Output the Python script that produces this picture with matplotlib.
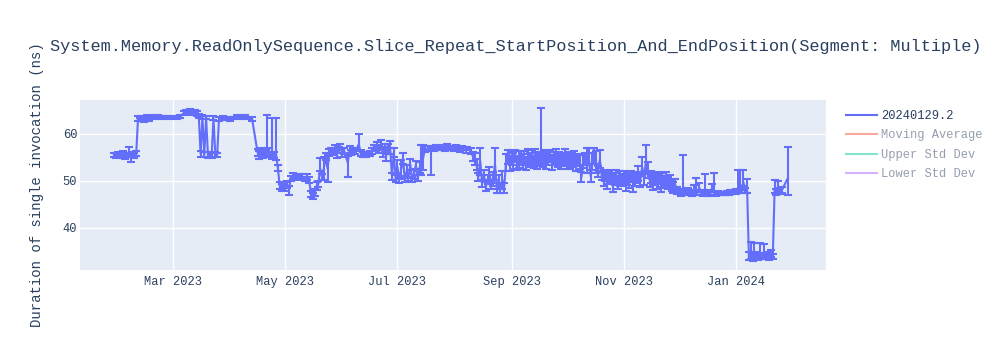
import numpy as np
import pandas as pd
import matplotlib
matplotlib.use("Agg")
import matplotlib.pyplot as plt
import matplotlib.dates as mdates
from matplotlib.lines import Line2D

plt.rcParams['font.family'] = ['Liberation Mono', 'DejaVu Sans']

TITLE = "System.Memory.ReadOnlySequence.Slice_Repeat_StartPosition_And_EndPosition(Segment: Multiple)"
Y_TITLE = "Duration of single invocation (ns)"
SERIES_NAME = "20240129.2"
HIDDEN_NAMES = ["Moving Average", "Upper Std Dev", "Lower Std Dev"]

# run dates and mean duration (ns), with the spread below / above the mean
dates = [
    "2023-01-28", "2023-01-29", "2023-01-30", "2023-01-31", "2023-02-01", "2023-02-02", "2023-02-03",
    "2023-02-04", "2023-02-05", "2023-02-06", "2023-02-07", "2023-02-08", "2023-02-09", "2023-02-10",
    "2023-02-11", "2023-02-12", "2023-02-13", "2023-02-14", "2023-02-15", "2023-02-16", "2023-02-17",
    "2023-02-19", "2023-02-21", "2023-02-23", "2023-02-25", "2023-02-27",
    "2023-03-01", "2023-03-03", "2023-03-05", "2023-03-07", "2023-03-08", "2023-03-10", "2023-03-11",
    "2023-03-13", "2023-03-14", "2023-03-15", "2023-03-16", "2023-03-17", "2023-03-18", "2023-03-19",
    "2023-03-20", "2023-03-21", "2023-03-22", "2023-03-23", "2023-03-24", "2023-03-25", "2023-03-26",
    "2023-03-28", "2023-03-30",
    "2023-04-01", "2023-04-03", "2023-04-05", "2023-04-07", "2023-04-09", "2023-04-11", "2023-04-13",
    "2023-04-16", "2023-04-17", "2023-04-18", "2023-04-19", "2023-04-20", "2023-04-21", "2023-04-22",
    "2023-04-23", "2023-04-24", "2023-04-25", "2023-04-26", "2023-04-27", "2023-04-28", "2023-04-29",
    "2023-04-30",
    "2023-05-01", "2023-05-02", "2023-05-03", "2023-05-04", "2023-05-05", "2023-05-07", "2023-05-09",
    "2023-05-10", "2023-05-12", "2023-05-13", "2023-05-14", "2023-05-15", "2023-05-16", "2023-05-17",
    "2023-05-18", "2023-05-19", "2023-05-20", "2023-05-21", "2023-05-22", "2023-05-23", "2023-05-24",
    "2023-05-25", "2023-05-26", "2023-05-27", "2023-05-28", "2023-05-29", "2023-05-30", "2023-05-31",
    "2023-06-01", "2023-06-02", "2023-06-04", "2023-06-05", "2023-06-06", "2023-06-07", "2023-06-08",
    "2023-06-10", "2023-06-11", "2023-06-12", "2023-06-14", "2023-06-16", "2023-06-17", "2023-06-18",
    "2023-06-20", "2023-06-21", "2023-06-22", "2023-06-23", "2023-06-24", "2023-06-25", "2023-06-26",
    "2023-06-27", "2023-06-28", "2023-06-29", "2023-06-30",
    "2023-07-01", "2023-07-02", "2023-07-03", "2023-07-04", "2023-07-05", "2023-07-06", "2023-07-07",
    "2023-07-08", "2023-07-09", "2023-07-10", "2023-07-11", "2023-07-12", "2023-07-13", "2023-07-14",
    "2023-07-15", "2023-07-16", "2023-07-18", "2023-07-19", "2023-07-20", "2023-07-21", "2023-07-22",
    "2023-07-24", "2023-07-25", "2023-07-27", "2023-07-28", "2023-07-30",
    "2023-08-01", "2023-08-02", "2023-08-04", "2023-08-05", "2023-08-07", "2023-08-08", "2023-08-10",
    "2023-08-11", "2023-08-12", "2023-08-13", "2023-08-14", "2023-08-15", "2023-08-16", "2023-08-17",
    "2023-08-18", "2023-08-19", "2023-08-20", "2023-08-21", "2023-08-22", "2023-08-23", "2023-08-24",
    "2023-08-25", "2023-08-26", "2023-08-27", "2023-08-28", "2023-08-29", "2023-08-30", "2023-08-31",
    "2023-09-01", "2023-09-02", "2023-09-03", "2023-09-04", "2023-09-05", "2023-09-06", "2023-09-07",
    "2023-09-08", "2023-09-09", "2023-09-10", "2023-09-11", "2023-09-12", "2023-09-13", "2023-09-14",
    "2023-09-15", "2023-09-16", "2023-09-17", "2023-09-18", "2023-09-19", "2023-09-20", "2023-09-21",
    "2023-09-22", "2023-09-23", "2023-09-24", "2023-09-25", "2023-09-26", "2023-09-27", "2023-09-28",
    "2023-09-29", "2023-09-30",
    "2023-10-01", "2023-10-02", "2023-10-03", "2023-10-04", "2023-10-05", "2023-10-06", "2023-10-07",
    "2023-10-08", "2023-10-09", "2023-10-10", "2023-10-11", "2023-10-12", "2023-10-13", "2023-10-14",
    "2023-10-15", "2023-10-16", "2023-10-17", "2023-10-18", "2023-10-19", "2023-10-20", "2023-10-21",
    "2023-10-22", "2023-10-23", "2023-10-24", "2023-10-25", "2023-10-26", "2023-10-27", "2023-10-28",
    "2023-10-29", "2023-10-30", "2023-10-31",
    "2023-11-01", "2023-11-02", "2023-11-03", "2023-11-04", "2023-11-05", "2023-11-06", "2023-11-07",
    "2023-11-08", "2023-11-09", "2023-11-10", "2023-11-11", "2023-11-12", "2023-11-13", "2023-11-14",
    "2023-11-15", "2023-11-16", "2023-11-17", "2023-11-18", "2023-11-19", "2023-11-20", "2023-11-21",
    "2023-11-22", "2023-11-23", "2023-11-24", "2023-11-25", "2023-11-26", "2023-11-27", "2023-11-28",
    "2023-11-29", "2023-11-30",
    "2023-12-01", "2023-12-02", "2023-12-03", "2023-12-04", "2023-12-05", "2023-12-06", "2023-12-07",
    "2023-12-08", "2023-12-09", "2023-12-10", "2023-12-11", "2023-12-12", "2023-12-13", "2023-12-14",
    "2023-12-15", "2023-12-16", "2023-12-17", "2023-12-18", "2023-12-19", "2023-12-20", "2023-12-21",
    "2023-12-22", "2023-12-23", "2023-12-24", "2023-12-25", "2023-12-26", "2023-12-27", "2023-12-28",
    "2023-12-29", "2023-12-30", "2023-12-31",
    "2024-01-01", "2024-01-02", "2024-01-03", "2024-01-04", "2024-01-05", "2024-01-06", "2024-01-07",
    "2024-01-08", "2024-01-09", "2024-01-10", "2024-01-11", "2024-01-12", "2024-01-13", "2024-01-14",
    "2024-01-15", "2024-01-16", "2024-01-17", "2024-01-18", "2024-01-19", "2024-01-20", "2024-01-21",
    "2024-01-22", "2024-01-23", "2024-01-24", "2024-01-25", "2024-01-26", "2024-01-29",
]

mean_ns = [
    55.6, 55.4, 55.7, 55.3, 55.5, 55.8, 55.2,
    55.6, 56.2, 55.0, 55.6, 55.4, 55.8, 63.3,
    63.1, 63.4, 63.0, 63.3, 63.6, 63.2, 63.5,
    63.7, 63.6, 63.5, 63.6, 63.5,
    63.6, 63.5, 63.7, 64.5, 64.7, 64.9, 64.6,
    64.8, 64.3, 63.9, 55.8, 63.6, 55.6, 63.5,
    55.5, 55.7, 55.4, 63.4, 55.6, 55.5, 63.2,
    63.4, 63.3,
    63.2, 63.4, 63.6, 63.7, 63.6, 63.4, 63.2,
    56.0, 55.5, 56.4, 55.8, 56.2, 55.9, 56.3,
    55.6, 55.8, 55.5, 55.7, 52.8, 49.0, 48.6,
    49.2,
    48.8, 49.3, 48.2, 50.6, 51.0, 50.7, 51.1,
    50.8, 50.4, 50.9, 50.2, 47.2, 46.8, 47.5,
    48.9, 49.4, 52.6, 50.8, 52.8, 55.2, 52.6,
    56.1, 56.5, 56.3, 57.0, 55.8, 56.6, 57.2,
    56.0, 56.4, 53.9, 56.7, 56.1, 56.5, 56.3,
    57.8, 56.0, 55.7, 55.6, 55.9, 56.4, 57.0,
    57.4, 56.8, 57.6, 56.2, 57.0, 55.5, 56.8,
    57.2, 51.0, 56.0, 50.5,
    53.0, 50.2, 52.5, 54.8, 50.4, 52.0, 50.8,
    53.5, 50.3, 51.5, 53.4, 50.6, 52.8, 54.0,
    55.0, 56.8, 56.9, 56.6, 57.0, 56.7, 57.1,
    56.9, 57.2, 56.8, 57.3, 57.0,
    56.9, 57.2, 56.7, 57.0, 56.6, 56.9, 56.4,
    55.2, 54.6, 53.5, 50.8, 54.2, 49.5, 51.2,
    48.8, 50.3, 51.6, 49.2, 50.5, 53.6, 48.5,
    49.8, 48.4, 50.2, 48.6, 54.0, 55.1, 53.8,
    54.9, 54.2, 55.3, 53.9, 54.6, 55.0, 54.1,
    54.8, 53.7, 55.2, 54.4, 54.9, 54.0, 55.4,
    54.3, 54.7, 55.0, 54.6, 55.1, 54.2, 54.8,
    55.3, 54.0, 54.7, 55.0, 54.4, 54.9, 54.1,
    54.6, 55.2,
    54.3, 54.8, 54.0, 54.5, 54.9, 53.8, 54.4,
    54.0, 50.8, 54.2, 54.6, 53.6, 55.0, 51.0,
    54.2, 55.2, 54.0, 52.0, 54.6, 51.2, 50.5,
    51.2, 49.8, 50.6, 51.0, 49.5, 50.4, 50.9,
    49.7, 50.6, 50.2,
    50.8, 49.6, 50.5, 50.0, 50.9, 49.4, 50.3,
    50.7, 51.5, 50.1, 53.0, 50.6, 54.0, 52.4,
    50.2, 50.8, 49.6, 50.4, 49.9, 50.6, 49.3,
    50.2, 49.8, 50.5, 49.5, 49.9, 49.0, 48.6,
    49.2, 48.0,
    47.8, 47.5, 47.6, 47.6, 47.4, 47.9, 47.5,
    47.3, 48.2, 47.6, 47.4, 48.6, 47.5, 47.3,
    48.0, 47.6, 47.4, 47.3, 48.5, 47.5, 47.3,
    47.4, 47.3, 47.4, 47.3, 47.4, 47.5, 47.4,
    47.6, 47.5, 47.7,
    47.8, 48.5, 49.5, 48.2, 49.8, 48.0, 48.9,
    34.0, 34.5, 33.7, 34.8, 34.1, 33.8, 34.3,
    34.0, 34.4, 33.9, 34.2, 33.8, 34.6, 33.9,
    48.2, 47.6, 48.4, 47.9, 48.1, 50.5,
]

err_lo = [
    0.4, 0.5, 0.4, 0.5, 0.4, 0.5, 0.5,
    0.4, 0.4, 0.9, 0.5, 0.6, 0.5, 0.5,
    0.4, 0.5, 0.4, 0.5, 0.4, 0.5, 0.4,
    0.3, 0.4, 0.3, 0.3, 0.3,
    0.3, 0.3, 0.3, 0.4, 0.4, 0.4, 0.5,
    0.4, 0.5, 0.4, 0.6, 0.4, 0.5, 0.4,
    0.6, 0.5, 0.5, 0.4, 0.5, 0.5, 0.4,
    0.4, 0.3,
    0.4, 0.3, 0.4, 0.3, 0.4, 0.3, 0.4,
    0.7, 0.8, 0.6, 0.9, 0.5, 0.6, 0.7,
    0.6, 1.1, 0.6, 1.2, 0.6, 0.8, 0.7,
    0.6,
    0.9, 0.7, 1.2, 0.5, 0.6, 0.5, 0.4,
    0.6, 0.5, 0.6, 0.7, 0.6, 0.7, 0.8,
    0.8, 0.6, 0.5, 0.6, 2.6, 0.8, 2.8,
    0.7, 0.6, 0.8, 0.6, 0.9, 0.7, 0.6,
    1.0, 0.6, 3.1, 0.7, 0.5, 0.6, 0.5,
    1.4, 0.6, 0.5, 0.4, 0.5, 0.6, 0.7,
    0.8, 0.9, 0.6, 1.0, 0.8, 1.2, 1.0,
    1.4, 0.8, 1.0, 0.7,
    1.5, 0.6, 2.0, 1.2, 0.6, 1.4, 0.7,
    1.2, 0.6, 1.0, 0.9, 0.7, 1.2, 2.8,
    2.7, 0.7, 0.5, 5.3, 0.5, 0.4, 0.5,
    0.4, 0.5, 0.4, 0.5, 0.4,
    0.5, 0.4, 0.5, 0.5, 0.6, 0.4, 0.6,
    0.9, 1.3, 1.2, 0.9, 2.9, 0.8, 1.2,
    0.9, 1.0, 1.4, 0.8, 1.5, 3.4, 1.1,
    1.4, 1.0, 2.0, 1.2, 1.8, 1.5, 1.6,
    1.4, 1.7, 1.3, 1.5, 1.8, 1.4, 1.6,
    1.5, 1.4, 1.7, 1.5, 1.6, 1.3, 1.5,
    1.8, 1.5, 1.5, 1.6, 1.4, 1.7, 1.5,
    1.3, 1.6, 1.4, 1.7, 1.5, 1.3, 1.6,
    1.4, 1.5,
    1.7, 1.3, 1.5, 1.6, 1.4, 1.7, 1.3,
    1.5, 1.1, 1.4, 1.3, 2.0, 1.5, 1.3,
    1.8, 1.6, 2.4, 1.2, 1.9, 1.0, 1.5,
    1.2, 1.6, 1.3, 1.4, 1.8, 1.2, 1.5,
    1.3, 1.6, 1.2,
    1.4, 1.7, 1.3, 1.5, 1.2, 1.8, 1.4,
    1.2, 1.6, 1.3, 2.0, 1.4, 2.5, 1.7,
    1.5, 1.3, 1.6, 1.2, 1.5, 1.3, 1.7,
    1.4, 1.2, 1.5, 1.3, 1.4, 1.2, 1.1,
    1.3, 0.8,
    0.5, 0.6, 0.3, 0.5, 0.4, 0.6, 0.5,
    0.4, 0.9, 0.5, 0.4, 0.9, 0.5, 0.4,
    0.6, 0.5, 0.5, 0.4, 0.8, 0.4, 0.4,
    0.4, 0.3, 0.3, 0.3, 0.3, 0.4, 0.3,
    0.4, 0.3, 0.4,
    0.5, 0.9, 1.5, 0.8, 1.6, 0.6, 1.5,
    0.8, 1.2, 0.8, 1.0, 0.8, 0.7, 1.0,
    0.7, 0.8, 0.6, 0.7, 0.6, 0.8, 0.6,
    0.8, 0.6, 1.0, 0.6, 0.7, 3.5,
]

err_hi = [
    0.4, 0.5, 0.4, 0.5, 0.4, 0.5, 0.5,
    0.4, 1.0, 0.5, 0.5, 0.6, 0.5, 0.5,
    0.4, 0.5, 0.4, 0.5, 0.4, 0.5, 0.4,
    0.3, 0.4, 0.3, 0.3, 0.3,
    0.3, 0.3, 0.3, 0.4, 0.4, 0.4, 0.5,
    0.4, 0.5, 0.4, 0.6, 0.4, 0.5, 0.4,
    0.6, 0.5, 0.5, 0.4, 0.5, 0.5, 0.4,
    0.4, 0.3,
    0.4, 0.3, 0.4, 0.3, 0.4, 0.3, 0.4,
    0.7, 0.8, 0.6, 0.9, 0.5, 8.1, 0.7,
    0.6, 7.5, 0.6, 7.6, 0.6, 0.8, 0.7,
    0.6,
    0.9, 0.7, 0.8, 0.5, 0.6, 0.5, 0.4,
    0.6, 0.5, 0.6, 0.7, 0.6, 0.7, 0.8,
    0.8, 0.6, 2.2, 0.6, 2.2, 0.8, 2.9,
    0.7, 0.6, 0.8, 0.6, 0.9, 0.7, 0.6,
    1.0, 0.6, 1.5, 0.7, 0.5, 0.6, 0.5,
    2.2, 0.6, 0.5, 0.4, 0.5, 0.6, 0.7,
    0.8, 0.9, 1.1, 1.0, 0.8, 1.2, 1.0,
    1.4, 0.8, 1.0, 0.7,
    1.5, 0.6, 2.0, 1.2, 0.6, 1.4, 0.7,
    1.2, 0.6, 1.0, 0.9, 0.7, 1.2, 3.7,
    2.7, 0.7, 0.5, 0.7, 0.5, 0.4, 0.5,
    0.4, 0.5, 0.4, 0.5, 0.4,
    0.5, 0.4, 0.5, 0.5, 0.6, 0.4, 0.6,
    0.9, 1.3, 1.2, 0.9, 2.9, 0.8, 1.2,
    0.9, 1.0, 1.4, 0.8, 1.5, 3.4, 1.0,
    1.4, 0.9, 2.0, 1.0, 1.8, 1.5, 1.6,
    1.4, 1.7, 1.3, 1.5, 1.8, 1.4, 1.6,
    1.5, 1.4, 1.7, 1.5, 1.6, 1.3, 1.5,
    1.8, 1.5, 10.5, 1.6, 1.4, 1.7, 1.5,
    1.3, 1.6, 1.4, 1.7, 1.5, 1.3, 1.6,
    1.4, 1.5,
    1.7, 1.3, 1.5, 1.6, 1.4, 1.7, 1.3,
    1.5, 1.1, 1.4, 1.3, 3.4, 2.0, 1.3,
    1.8, 1.9, 2.4, 1.2, 1.9, 1.0, 1.5,
    1.2, 1.6, 1.3, 1.4, 1.8, 1.2, 1.5,
    1.3, 1.6, 1.2,
    1.4, 1.7, 1.3, 1.5, 1.2, 1.8, 1.4,
    1.2, 1.6, 1.3, 2.0, 1.4, 3.7, 1.7,
    1.5, 1.3, 1.6, 1.2, 1.5, 1.3, 1.7,
    1.4, 1.2, 1.5, 1.3, 1.4, 1.2, 1.1,
    1.3, 0.8,
    0.5, 0.6, 7.9, 0.5, 0.4, 0.6, 0.5,
    0.4, 0.9, 3.0, 0.4, 0.9, 0.5, 0.4,
    3.4, 0.5, 0.5, 0.4, 0.8, 4.3, 0.4,
    0.4, 0.3, 0.3, 0.3, 0.3, 0.4, 0.3,
    0.4, 0.3, 0.4,
    0.5, 3.8, 2.8, 0.8, 2.5, 0.6, 1.5,
    0.8, 2.5, 0.8, 2.1, 0.8, 0.7, 2.4,
    0.7, 2.2, 0.6, 0.7, 0.6, 0.8, 0.6,
    2.0, 0.6, 1.6, 0.6, 0.7, 6.7,
]

x = pd.to_datetime(dates)
y = np.array(mean_ns)
yerr = np.array([err_lo, err_hi])

BLUE = "#636efa"
FADED = ["#f7aa9d", "#80e6cb", "#d5b1fd"]
TEXT = "#2a3f5f"

fig = plt.figure(figsize=(10, 3.5), dpi=100)
ax = fig.add_axes([0.08, 80 / 350, 0.746, 170 / 350])
ax.set_facecolor("#E5ECF6")

ax.errorbar(x, y, yerr=yerr, color=BLUE, linewidth=1.5, elinewidth=1.5,
            capsize=3.2, capthick=1.5, zorder=3)

ax.set_xlim(pd.Timestamp("2023-01-09 11:00"), pd.Timestamp("2024-02-18 22:00"))
ax.set_ylim(31.06, 67.23)
ax.set_yticks([40, 50, 60])
ax.xaxis.set_major_locator(mdates.MonthLocator(bymonth=[1, 3, 5, 7, 9, 11]))
ax.xaxis.set_major_formatter(mdates.DateFormatter("%b %Y"))
ax.grid(True, color="white", linewidth=1)
ax.set_axisbelow(True)
for s in ax.spines.values():
    s.set_visible(False)
ax.tick_params(length=0, labelsize=8.64, labelcolor=TEXT)
ax.tick_params(axis="y", pad=2)
ax.tick_params(axis="x", pad=4)

fig.text(0.05, 1 - 46 / 350, TITLE, fontsize=12.16, color=TEXT, ha="left", va="center")
fig.text(0.037, 1 - 185 / 350, Y_TITLE, fontsize=10.08, color=TEXT, rotation=90,
         ha="center", va="center")

handles = [Line2D([], [], color=BLUE, linewidth=1.5)]
handles += [Line2D([], [], color=c, linewidth=1.5) for c in FADED]
leg = fig.legend(handles, [SERIES_NAME] + HIDDEN_NAMES, loc="upper left",
                 bbox_to_anchor=(0.846, 1 - 110 / 350), frameon=False, fontsize=8.64,
                 handlelength=2.6, handletextpad=0.35, labelspacing=0.62,
                 borderpad=0, borderaxespad=0)
for i, t in enumerate(leg.get_texts()):
    t.set_color(TEXT)
    if i > 0:
        t.set_alpha(0.5)

fig.savefig("out.png", dpi=100)
